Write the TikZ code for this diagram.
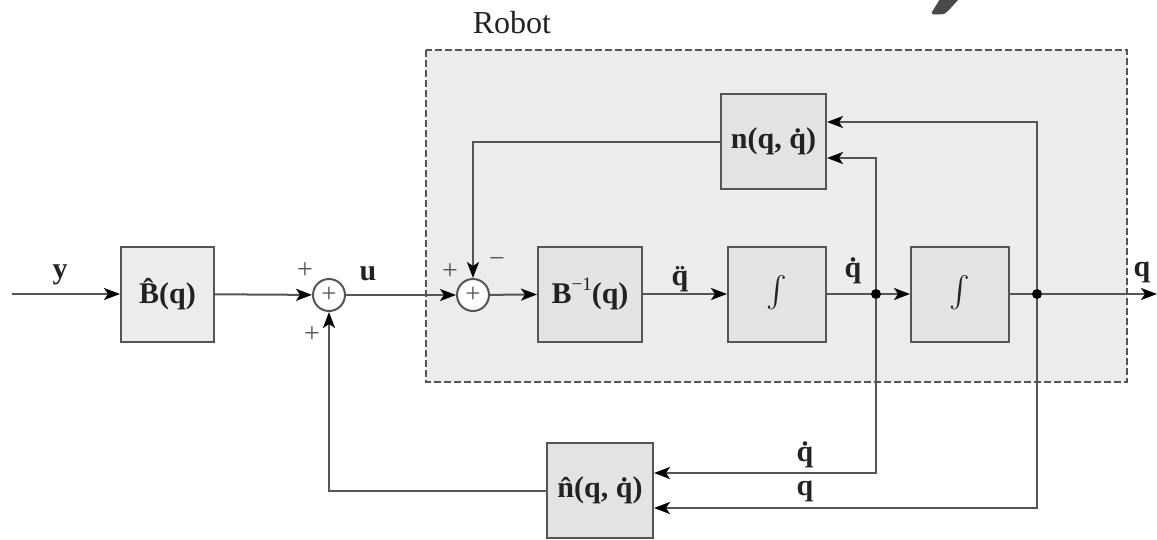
\documentclass[tikz,border=0pt]{standalone}
\usepackage{graphicx}
\usepackage{fontspec}
\setmainfont{Liberation Serif}
\usetikzlibrary{arrows.meta,calc}
\definecolor{linec}{HTML}{555555}
\definecolor{robotbg}{HTML}{ECECEC}
\definecolor{boxbg}{HTML}{E3E3E3}
\definecolor{outerbg}{HTML}{ECECEC}
\definecolor{txt}{HTML}{222222}
\definecolor{blob}{HTML}{4A4A4A}
\tikzset{
  blk/.style={draw=linec, line width=2pt, fill=boxbg, inner sep=0pt, text=txt,
    font=\fontsize{30}{36}\selectfont\bfseries},
  sumc/.style={circle, draw=linec, line width=2pt, fill=white, minimum size=32pt, inner sep=0pt,
    font=\fontsize{27}{30}\selectfont, text=linec},
  lbl/.style={inner sep=0pt, text=txt, font=\fontsize{30}{36}\selectfont\bfseries},
  sgn/.style={inner sep=0pt, text=linec, font=\fontsize{28}{30}\selectfont},
  wire/.style={draw=linec, line width=2pt},
  arr/.style={wire, -{Stealth[length=16pt,width=12pt,inset=4pt,color=black]}},
  jdot/.style={circle, fill=black, minimum size=10pt, inner sep=0pt},
}
\newcommand{\bigint}{\scalebox{3.1}{$\int$}}
\begin{document}
\begin{tikzpicture}[x=1pt,y=-1pt]
\useasboundingbox (0,0) rectangle (1157,539);
% robot frame
\draw[linec, line width=1.6pt, dash pattern=on 7pt off 3pt, fill=robotbg] (426,50) rectangle (1127,382);
\node[inner sep=0pt, text=txt, font=\fontsize{32}{36}\selectfont] (robot) at (512,23) {Robot};
% blob at top
\fill[blob] (940,-1) -- (959,-1) -- (948,11) .. controls (946,14) and (944,14.5) .. (936,14.5) .. controls (931,14.5) and (931,13) .. (932,12) -- cycle;
% blocks
\node[blk, fill=outerbg, minimum width=93pt, minimum height=95pt] (B) at (167.5,294) {\^{B}(q)};
\node[sumc] (s1) at (329,295) {+};
\node[sumc] (s2) at (473,295) {+};
\node[blk, minimum width=104pt, minimum height=95pt] (Binv) at (590,294) {B\raisebox{0.45em}{\mdseries\fontsize{19}{20}\selectfont −1}(q)};
\node[blk, minimum width=98pt, minimum height=95pt, font=\fontsize{30}{36}\selectfont, text=txt] (I1) at (777,294) {\bigint};
\node[blk, minimum width=98pt, minimum height=95pt, font=\fontsize{30}{36}\selectfont, text=txt] (I2) at (960,294) {\bigint};
\node[blk, minimum width=105pt, minimum height=95pt] (n) at (773.5,141.5) {n(q, \.{q})};
\node[blk, minimum width=106pt, minimum height=95pt] (nh) at (600,490.5) {\^{n}(q, \.{q})};
\node[jdot] (j1) at (876,294) {};
\node[jdot] (j2) at (1037,294) {};
\coordinate (in) at (12,294);
\coordinate (out) at (1157,294);
% main path
\draw[arr] (in) -- (B);
\draw[arr] (B) -- (s1);
\draw[arr] (s1) -- (s2);
\draw[arr] (s2) -- (Binv);
\draw[arr] (Binv) -- (I1);
\draw[wire] (I1) -- (j1);
\draw[arr] (j1) -- (I2);
\draw[wire] (I2) -- (j2);
\draw[arr] (j2) -- (out);
% feedback to n
\draw[arr] (j2) |- ([yshift=19.5pt]n.east);
\draw[arr] (j1) |- ([yshift=-16.5pt]n.east);
\draw[arr] (n.west) -| (s2.north);
% feedback to nhat
\draw[arr] (j1) |- ([yshift=17.5pt]nh.east);
\draw[arr] (j2) |- ([yshift=-17.5pt]nh.east);
\draw[arr] (nh.west) -| (s1.south);
% labels
\node[lbl] (ly) at (60,275) {y};
\node[sgn] (p1) at (305,271) {+};
\node[sgn] (p2) at (312,335) {+};
\node[lbl] (lu) at (368,274) {u};
\node[sgn] (p3) at (450,272) {+};
\node[sgn] (m1) at (497,262) {−};
\node[lbl] (lqdd) at (680,279) {\"{q}};
\node[lbl] (lqd) at (853,271) {\.{q}};
\node[lbl] (lq) at (1142,272) {q};
\node[lbl] (lqd2) at (805,455) {\.{q}};
\node[lbl] (lq2) at (805,491) {q};
\end{tikzpicture}
\end{document}
